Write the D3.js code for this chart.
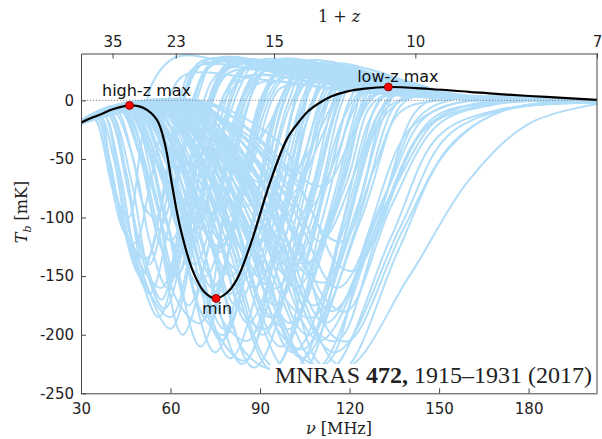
<!DOCTYPE html>
<html><head><meta charset="utf-8">
<script src="https://cdn.jsdelivr.net/npm/d3@7"></script>
<style>body{margin:0;background:#fff}svg{display:block}</style>
</head><body>
<svg id="c" width="602" height="439"></svg>
<script>
// ---------------- data ----------------
const xTicks = [30, 60, 90, 120, 150, 180];
const yTicks = [0, -50, -100, -150, -200, -250];
const zTicks = [35, 23, 15, 10, 7];          // 1+z labels on the top axis
const nuRest = 1420.4;                        // MHz

// fiducial model [nu MHz, T mK]
const fiducial = [[30,-19],[33,-15.5],[36.5,-12],[40.9,-7.4],[46.25,-4.3],[51,-6.5],[55.4,-16.5],
  [58.2,-38],[60.5,-72],[63.2,-108],[67.7,-147],[71.5,-164],[75.25,-169],[79,-164],[82.2,-153],
  [86.6,-124.6],[93.3,-70.5],[98.9,-33.5],[102.5,-20],[106,-9.5],[110,-2],[114,3.5],[119,7.5],
  [125,10],[133,11.4],[146.8,9.7],[160,7.3],[169.1,5.5],[185.9,2.9],[202.9,0.5]];

const extremaLabels = ["high-z max", "min", "low-z max"];
const extremaNu = [46.25, 75.25, 133];
const extremaT = [-4.3, -169, 11.4];

// sampled models, flat [nu, T, nu, T, ...]
const blueCurves = [
 [30,-18,34,-14,38,-40,42,-85,46,-100,50,-40,54,15,62,37,80,33,100,30,115,26,135,12,155,4,203,0],
 [30,-19,35,-13,39,-45,43,-95,50,-150,57,-90,63,-10,70,33,90,31,112,25,135,10,160,3,203,0],
 [30,-20,36,-12,41,-50,46,-120,53,-165,60,-100,66,-20,74,30,95,29,115,20,140,6,203,0],
 [30,-20,37,-10,43,-60,48,-130,56,-185,64,-110,70,-30,80,28,100,26,120,15,145,4,203,0],
 [30,-18,35,-12,40,-55,45,-115,52,-135,58,-70,63,0,68,28,90,27,115,18,140,5,203,0],
 [30,-19,38,-8,45,-60,50,-130,58,-178,66,-100,72,-15,80,32,100,30,118,22,145,6,203,0],
 [30,-17,34,-13,40,-70,44,-110,48,-122,54,-60,60,5,65,22,90,18,120,8,150,2,203,0],
 [30,-21,38,-9,46,-80,51,-150,60,-195,68,-120,75,-35,84,25,105,22,125,12,150,3,203,0],
 [30,-20,36,-12,40,-60,44,-100,52,-160,60,-185,68,-110,76,-10,86,20,110,15,140,4,203,0],
 [30,-19,42,-5,52,-60,60,-120,68,-60,74,10,80,33,100,31,118,24,145,6,203,0],
 [30,-18,43,-5,54,-75,62,-150,71,-75,78,5,86,30,105,28,125,15,150,4,203,0],
 [30,-20,44,-6,55,-100,64,-200,74,-110,82,-10,90,26,110,24,130,12,155,3,203,0],
 [30,-18,46,-4,57,-45,65,-90,73,-40,78,5,84,20,110,15,135,6,203,0],
 [30,-19,45,-4,57,-85,66,-175,76,-90,84,0,92,32,110,30,125,20,150,5,203,0],
 [30,-20,47,-3,59,-70,68,-140,77,-70,85,5,93,28,110,25,132,10,160,2,203,0],
 [30,-19,46,-5,59,-105,70,-210,81,-110,90,-5,98,30,115,27,135,12,160,3,203,0],
 [30,-18,49,-3,61,-55,71,-110,79,-55,85,0,90,15,115,10,145,3,203,0],
 [30,-20,47,-4,61,-92,72,-185,83,-92,92,0,100,25,118,20,140,8,165,2,203,0],
 [30,-19,48,-3,63,-80,74,-160,84,-80,92,5,99,33,113,30,128,18,150,5,203,0],
 [30,-20,46,-5,62,-108,75,-215,87,-108,96,-5,105,28,120,24,140,10,165,2,203,0],
 [30,-18,50,-2,65,-65,76,-130,85,-65,91,0,96,22,120,15,145,4,203,0],
 [30,-19,49,-3,65,-98,78,-195,90,-98,99,-5,106,30,120,26,140,10,165,2,203,0],
 [30,-20,51,-2,68,-75,80,-150,91,-75,98,0,103,18,125,12,150,3,203,0],
 [30,-19,48,-4,66,-110,80,-220,94,-110,104,-10,111,26,125,20,145,7,170,1,203,0],
 [30,-18,52,-2,70,-50,79,-100,88,-50,94,0,98,12,125,7,150,2,203,0],
 [30,-19,51,-3,70,-88,82,-175,94,-88,102,0,108,30,120,27,138,12,160,3,203,0],
 [30,-20,50,-4,69,-112,84,-225,99,-112,109,-10,115,22,130,15,150,5,203,0],
 [30,-18,54,-2,74,-65,85,-130,96,-65,102,5,105,28,118,25,135,12,160,3,203,0],
 [30,-19,52,-3,73,-95,86,-190,99,-95,107,-5,112,20,130,14,150,4,203,0],
 [30,-20,55,-2,76,-80,88,-160,100,-80,106,5,110,32,120,29,135,16,155,5,203,0],
 [30,-19,51,-4,72,-114,88,-228,104,-114,115,-10,120,18,135,12,155,4,203,0],
 [30,-18,57,-1,78,-55,90,-110,100,-55,105,0,108,24,125,18,145,5,203,0],
 [30,-20,54,-3,77,-100,91,-200,105,-100,114,-5,118,25,132,17,150,5,203,0],
 [30,-19,57,-2,80,-72,92,-145,104,-72,111,0,115,15,135,8,160,2,203,0],
 [30,-20,53,-4,76,-115,94,-230,111,-115,122,-10,125,14,140,9,160,3,203,0],
 [30,-19,56,-2,81,-88,95,-175,109,-88,117,-5,122,20,138,12,160,3,203,0],
 [30,-18,60,-1,84,-45,96,-90,105,-45,110,0,112,10,135,5,203,0],
 [30,-20,55,-3,80,-105,97,-210,113,-105,123,-10,128,16,145,8,165,2,203,0],
 [30,-19,59,-1,85,-62,98,-125,109,-62,116,0,120,27,130,24,145,10,165,3,203,0],
 [30,-20,57,-2,84,-95,100,-190,115,-95,125,-5,130,12,150,5,203,0],
 [30,-19,55,-3,80,-116,100,-232,120,-116,132,-10,137,10,155,4,203,0],
 [30,-19,60,-1,88,-80,102,-160,116,-80,126,0,132,8,155,3,203,0],
 [30,-20,58,-2,85,-110,104,-220,122,-110,135,-5,141,6,160,2,203,0],
 [30,-18,62,-1,90,-70,105,-140,118,-70,125,0,130,20,140,16,155,5,203,0],
 [30,-19,60,-2,88,-100,106,-200,124,-100,137,-5,143,4,165,1,203,0],
 [30,-20,58,-3,86,-115,108,-230,128,-115,142,-10,150,2,175,0,203,0],
 [30,-19,62,-1,92,-88,108,-175,123,-88,133,0,140,10,155,4,203,0],
 [30,-18,65,-1,96,-60,110,-120,122,-60,130,0,135,5,160,1,203,0],
 [30,-20,60,-2,88,-116,112,-232,134,-116,150,-30,170,-8,203,-2],
 [30,-19,63,-1,94,-95,112,-190,130,-95,143,-15,155,1,203,0],
 [30,-20,62,-2,92,-108,115,-215,137,-108,153,-30,175,-6,203,-1],
 [30,-19,66,-1,98,-80,116,-160,132,-80,145,-15,160,0,203,0],
 [30,-20,64,-2,95,-114,118,-228,140,-150,160,-68,180,-20,203,-3],
 [30,-19,61,-2,90,-102,110,-205,130,-102,145,-25,165,-4,203,-1],
 [30,-18,64,-1,96,-90,114,-180,132,-90,148,-15,170,-2,203,0],
 [30,-19,52,-2,70,-30,82,-60,92,-25,98,5,103,25,120,20,140,7,203,0],
 [30,-18,58,-1,78,-35,90,-70,100,-30,106,5,110,20,128,13,150,4,203,0],
 [30,-20,62,-1,88,-40,100,-80,110,-35,116,3,120,18,135,10,155,3,203,0],
 [30,-19,46,-3,60,-35,70,-65,78,-25,83,10,88,30,105,28,125,15,150,4,203,0],
 [30,-18,64,-1,92,-48,105,-95,116,-45,122,0,128,14,145,6,203,0],
 [30,-19,44,-4,53,-40,60,-80,66,-30,70,10,75,35,95,32,115,25,140,8,203,0],
 [30,-19,47,-4,58,-60,67,-125,75,-60,81,5,87,30,105,27,125,14,150,4,203,0],
 [30,-20,50,-3,63,-85,73,-170,84,-85,93,0,100,22,120,16,142,5,203,0],
 [30,-18,53,-2,67,-60,77,-120,86,-55,92,5,97,30,112,27,130,14,155,4,203,0],
 [30,-19,49,-3,64,-100,77,-205,90,-100,100,-5,107,24,122,18,142,6,203,0],
 [30,-20,56,-2,74,-70,84,-140,95,-70,102,0,107,26,120,22,138,9,160,2,203,0],
 [30,-19,58,-2,80,-95,93,-185,107,-92,116,-5,121,22,135,15,155,4,203,0],
 [30,-18,61,-1,86,-75,99,-150,112,-75,120,0,125,16,140,9,160,2,203,0],
 [30,-20,59,-2,84,-110,101,-215,118,-110,130,-10,136,8,155,3,203,0],
 [30,-19,66,-1,94,-70,106,-140,119,-70,127,-5,134,6,160,1,203,0],
 [30,-18,42,-6,50,-50,56,-110,63,-55,68,5,74,32,92,30,112,22,138,6,203,0],
 [30,-19,40,-7,48,-55,53,-120,59,-160,66,-95,72,-10,80,30,98,29,118,22,142,6,203,0],
 [30,-20,39,-8,47,-70,52,-140,57,-170,64,-100,69,-20,77,25,100,23,125,10,150,3,203,0],
 [30,-18,44,-5,52,-40,58,-100,63,-130,69,-70,74,0,80,30,102,29,120,20,145,5,203,0],
 [30,-19,45,-5,55,-80,62,-170,70,-190,78,-100,85,-10,93,28,112,25,132,12,158,3,203,0],
 [30,-20,48,-3,60,-85,66,-140,72,-150,79,-80,86,5,94,31,112,29,130,16,155,4,203,0],
 [30,-19,50,-3,62,-90,70,-180,78,-200,87,-110,95,-10,104,26,122,20,145,6,203,0],
 [30,-18,52,-2,65,-80,73,-150,80,-165,89,-85,97,0,104,30,118,28,135,14,158,4,203,0],
 [30,-20,50,-3,66,-100,76,-200,85,-222,96,-120,106,-15,114,20,130,14,150,4,203,0],
 [30,-19,54,-2,70,-70,80,-140,87,-150,96,-75,104,0,110,28,124,25,140,11,162,3,203,0],
 [30,-18,56,-2,74,-90,84,-180,92,-195,102,-100,111,-10,118,22,134,15,155,4,203,0],
 [30,-20,53,-3,72,-110,85,-215,95,-228,107,-120,118,-15,126,12,142,7,162,2,203,0],
 [30,-19,58,-1,78,-75,89,-150,96,-160,105,-80,113,0,119,25,132,20,150,6,203,0],
 [30,-18,60,-1,80,-90,92,-180,100,-195,111,-100,121,-10,128,14,145,7,165,2,203,0],
 [30,-20,57,-2,78,-115,93,-225,104,-233,118,-120,130,-20,140,3,160,1,203,0],
 [30,-19,62,-1,84,-70,96,-135,103,-145,112,-75,120,0,126,20,138,14,155,4,203,0],
 [30,-18,64,-1,88,-90,100,-175,108,-185,119,-95,130,-10,137,6,155,2,203,0],
 [30,-20,63,-2,88,-110,102,-215,112,-225,126,-115,140,-25,155,-3,175,0,203,0],
 [30,-19,67,-1,92,-75,104,-145,112,-155,122,-80,132,-8,142,3,165,1,203,0],
 [30,-20,66,-1,94,-100,108,-195,116,-205,130,-110,145,-25,160,-4,203,0],
 [30,-19,68,-1,98,-90,112,-170,119,-180,134,-90,150,-20,170,-3,203,0],
 [30,-18,70,-1,100,-60,112,-115,118,-120,128,-60,137,-10,150,0,203,0],
 [30,-20,65,-2,95,-115,110,-225,118,-230,136,-130,152,-45,170,-10,203,-2],
 [30,-19,69,-1,100,-105,114,-200,120,-205,138,-110,155,-35,175,-6,203,-1],
 [30,-18,71,-1,103,-75,116,-140,122,-145,136,-70,150,-15,168,-1,203,0],
 [30,-19,60,-1,82,-50,92,-95,98,-100,106,-50,112,0,118,24,130,20,148,6,203,0],
 [30,-20,55,-2,72,-45,80,-85,86,-90,93,-45,99,5,105,33,118,30,135,15,158,4,203,0],
 [30,-19,49,-3,62,-45,70,-90,75,-95,82,-45,88,10,95,34,112,31,130,18,155,4,203,0],
 [30,-18,46,-4,56,-55,63,-105,68,-110,75,-55,81,10,88,33,108,31,128,18,152,4,203,0],
 [30,-20,70,-1,96,-35,106,-70,112,-72,120,-35,127,0,133,10,150,4,203,0],
 [30,-19,64,-1,86,-30,96,-55,102,-58,110,-25,116,5,122,22,136,15,155,4,203,0],
 [30,-18,41,-6,47,-45,51,-90,55,-100,60,-50,65,5,72,34,92,32,112,26,138,7,203,0],
 [30,-20,39,-8,45,-60,49,-115,53,-140,59,-80,64,-5,70,30,92,29,115,20,140,5,203,0],
 [30,-19,43,-5,50,-50,56,-120,62,-150,68,-90,73,-10,80,24,100,22,125,10,150,3,203,0],
 [30,-20,37,-10,42,-55,46,-110,51,-145,57,-160,64,-95,71,-10,80,24,105,20,130,8,155,2,203,0],
 [30,-19,47,-4,59,-70,67,-150,74,-170,82,-100,89,-10,96,18,118,14,140,5,203,0],
 [30,-18,51,-2,64,-55,72,-115,77,-125,84,-65,90,0,97,27,115,24,135,12,160,3,203,0],
 [30,-20,52,-3,68,-95,78,-190,86,-205,96,-115,105,-15,113,16,130,11,150,3,203,0],
 [30,-19,56,-2,73,-60,82,-120,88,-128,96,-65,102,0,108,20,128,14,150,4,203,0],
 [30,-18,59,-1,78,-60,88,-115,93,-120,101,-60,108,0,114,30,126,27,142,13,162,3,203,0],
 [30,-20,61,-2,84,-100,97,-200,105,-212,117,-110,127,-15,134,8,152,3,203,0]
];

// ---------------- drawing ----------------
const svg = d3.select("#c");
const L = 81, R = 597, T = 53.5, B = 393.3;
const x = d3.scaleLinear().domain([30, nuRest / 7]).range([L, R]);
const y = d3.scaleLinear().domain([-250, 40]).range([B, T]);

svg.append("defs").append("clipPath").attr("id", "clip")
  .append("rect").attr("x", L).attr("y", T).attr("width", R - L).attr("height", B - T);

const line = d3.line().x(d => x(d[0])).y(d => y(d[1])).curve(d3.curveCatmullRom.alpha(0.5));
const toPairs = a => d3.range(0, a.length, 2).map(i => [a[i], a[i + 1]]);

const plot = svg.append("g").attr("clip-path", "url(#clip)");
plot.selectAll("path.blue").data(blueCurves).join("path")
  .attr("class", "blue")
  .attr("d", d => line(toPairs(d)))
  .attr("fill", "none").attr("stroke", "#b0ddf9").attr("stroke-width", 2);

// zero reference line
plot.append("line").attr("x1", L).attr("x2", R).attr("y1", y(0)).attr("y2", y(0))
  .attr("stroke", "#8a8a8a").attr("stroke-width", 1).attr("stroke-dasharray", "1.2,1.8");

plot.append("path").attr("d", line(fiducial))
  .attr("fill", "none").attr("stroke", "#000").attr("stroke-width", 2.2);

// extrema points
const ext = extremaLabels.map((l, i) => ({ label: l, nu: extremaNu[i], T: extremaT[i] }));
const labelOffsets = { "high-z max": [17, -9], "min": [1, 16], "low-z max": [9.5, -4.8] };
svg.selectAll("circle.ext").data(ext).join("circle").attr("class", "ext")
  .attr("cx", d => x(d.nu)).attr("cy", d => y(d.T)).attr("r", 4)
  .attr("fill", "#ff0000").attr("stroke", "#7a0000").attr("stroke-width", 0.8);
svg.selectAll("text.ext").data(ext).join("text").attr("class", "ext")
  .attr("x", d => x(d.nu) + labelOffsets[d.label][0])
  .attr("y", d => y(d.T) + labelOffsets[d.label][1])
  .attr("text-anchor", "middle")
  .style("font-family", "DejaVu Sans").style("font-size", "16px").attr("fill", "#111")
  .text(d => d.label);

// journal header overlay
svg.append("rect").attr("x", 270).attr("y", 364).attr("width", 326).attr("height", 24).attr("fill", "#fff");
const hdr = svg.append("text").attr("x", 592).attr("y", 383).attr("text-anchor", "end")
  .style("font-family", "Liberation Serif").style("font-size", "24px").attr("fill", "#222");
hdr.append("tspan").text("MNRAS ");
hdr.append("tspan").style("font-weight", "bold").text("472,");
hdr.append("tspan").text(" 1915\u20131931 (2017)");

// axes
const axCol = "#444";
function styleAxis(g) {
  g.select(".domain").attr("stroke", axCol);
  g.selectAll(".tick line").attr("stroke", axCol);
  g.selectAll(".tick text").attr("fill", "#222")
    .style("font-family", "DejaVu Sans").style("font-size", "15px");
}
svg.append("g").attr("transform", `translate(0,${B})`)
  .call(d3.axisBottom(x).tickValues(xTicks).tickSize(-5).tickSizeOuter(0).tickPadding(10).tickFormat(d3.format("d")))
  .call(styleAxis);
svg.append("g").attr("transform", `translate(${L},0)`)
  .call(d3.axisLeft(y).tickValues(yTicks).tickSize(-5).tickSizeOuter(0).tickPadding(7).tickFormat(d => String(d)))
  .call(styleAxis);
svg.append("g").attr("transform", `translate(0,${T})`)
  .call(d3.axisTop(x).tickValues(zTicks.map(z => nuRest / z)).tickSize(-5).tickSizeOuter(0).tickPadding(7)
    .tickFormat(v => String(Math.round(nuRest / v))))
  .call(styleAxis);
svg.append("line").attr("x1", R).attr("x2", R).attr("y1", T).attr("y2", B)
  .attr("stroke", axCol).attr("stroke-width", 1);

// axis titles
const t1 = svg.append("text").attr("x", 339).attr("y", 22).attr("text-anchor", "middle")
  .style("font-family", "DejaVu Serif").style("font-size", "16px").attr("fill", "#222");
t1.append("tspan").text("1 + ");
t1.append("tspan").style("font-style", "italic").text("z");

const t2 = svg.append("text").attr("x", 339).attr("y", 434).attr("text-anchor", "middle")
  .style("font-family", "DejaVu Serif").style("font-size", "16px").attr("fill", "#222");
t2.append("tspan").style("font-style", "italic").text("\u03bd");
t2.append("tspan").text(" [MHz]");

const t3 = svg.append("text").attr("transform", "translate(27,212) rotate(-90)").attr("text-anchor", "middle")
  .style("font-family", "DejaVu Serif").style("font-size", "16px").attr("fill", "#222");
t3.append("tspan").style("font-style", "italic").text("T");
t3.append("tspan").style("font-style", "italic").style("font-size", "11px").attr("dy", 4).text("b");
t3.append("tspan").attr("dy", -4).text(" [mK]");
</script>
</body></html>
